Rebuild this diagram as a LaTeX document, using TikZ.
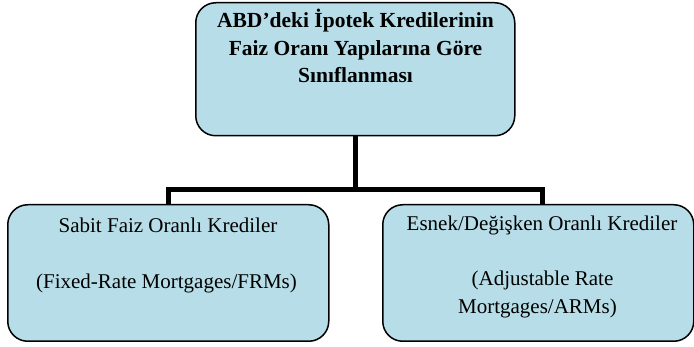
\documentclass[tikz,border=0pt]{standalone}
\usepackage{fontspec}
\setmainfont{Liberation Serif}
\usetikzlibrary{backgrounds}
\definecolor{boxfill}{HTML}{B7DEE8}
\begin{document}
\begin{tikzpicture}[x=1pt,y=-1pt,
  box/.style={draw=black, line width=1.5pt, fill=boxfill, rounded corners=20pt, inner sep=0pt, anchor=north west},
  conn/.style={draw=black, line width=5pt, line join=miter},
  txt/.style={inner sep=0pt, anchor=base, font=\fontsize{21}{27.5}\selectfont},
  btxt/.style={txt, font=\fontsize{21.5}{27.5}\selectfont\bfseries}]
\useasboundingbox (0,0) rectangle (694,347);
% boxes
\node[box, minimum width=319pt, minimum height=133pt] (top) at (195,2) {};
\node[box, minimum width=321pt, minimum height=136.5pt] (left) at (7,204) {};
\node[box, minimum width=311pt, minimum height=136.5pt] (right) at (382,204) {};
\coordinate (bus) at (355,189.5);
\coordinate (rconn) at ([xshift=4.5pt]right.north);
% connectors behind the boxes
\begin{scope}[on background layer]
\draw[conn] (top.south) -- (top.south |- bus);
\draw[conn] (left.north) -- (left.north |- bus) -- (rconn |- bus) -- (rconn);
\end{scope}
% texts
\node[btxt] (t1) at (355.5,28) {ABD’deki İpotek Kredilerinin};
\node[btxt] (t2) at (355.5,55.5) {Faiz Oranı Yapılarına Göre};
\node[btxt] (t3) at (355.5,83) {Sınıflanması};
\node[txt] (l1) at (168,233) {Sabit Faiz Oranlı Krediler};
\node[txt] (l2) at (166.5,289) {(Fixed-Rate Mortgages/FRMs)};
\node[txt] (r1) at (542,231) {Esnek/Değişken Oranlı Krediler};
\node[txt] (r2) at (542.5,286) {(Adjustable Rate};
\node[txt] (r3) at (537.5,314) {Mortgages/ARMs)};
\end{tikzpicture}
\end{document}
